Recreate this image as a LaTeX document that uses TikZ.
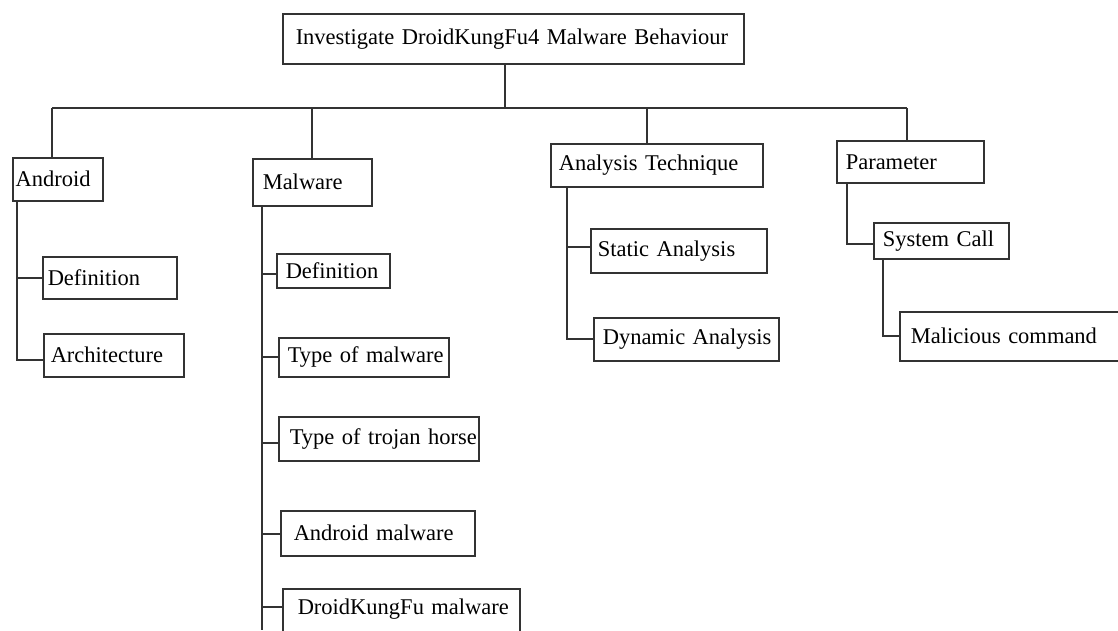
\documentclass[tikz,border=0pt]{standalone}
\usepackage{fontspec}
\setmainfont{Liberation Serif}
\tikzset{box/.style={draw=black!80,line width=1.5pt,anchor=north west,align=left,inner ysep=0pt,font=\fontsize{22.5}{27}\selectfont,execute at begin node=\hbox\bgroup,execute at end node=\egroup},link/.style={draw=black!80,line width=1.6pt}}

\begin{document}
\begin{tikzpicture}[x=1pt,y=-1pt]
\path[use as bounding box,clip] (0,0) rectangle (1118,630);
\fill[white] (0,0) rectangle (1118,630);
\node[box,minimum height=50pt,text width=435pt,inner xsep=13pt] (top) at (282,13) {Investigate DroidKungFu4 Malware Behaviour};
\node[box,minimum height=43pt,text width=84pt,inner xsep=3pt] (android) at (12,157) {Android};
\node[box,minimum height=42pt,text width=124pt,inner xsep=5pt] (adef) at (42,256) {Definition};
\node[box,minimum height=43pt,text width=126pt,inner xsep=7pt] (aarch) at (43,333) {Architecture};
\node[box,minimum height=47pt,text width=99pt,inner xsep=10pt] (malware) at (252,158) {Malware};
\node[box,minimum height=34pt,text width=95pt,inner xsep=9pt] (mdef) at (276,253) {Definition};
\node[box,minimum height=39pt,text width=152pt,inner xsep=9pt] (mtype) at (278,337) {Type of malware};
\node[box,minimum height=44pt,text width=178pt,inner xsep=11pt] (mtrojan) at (278,416) {Type of trojan horse};
\node[box,minimum height=45pt,text width=168pt,inner xsep=13pt] (mandroid) at (280,510) {Android malware};
\node[box,text height=26pt,text depth=30pt,text width=207pt,inner xsep=15pt] (mdroid) at (282,588) {DroidKungFu malware};
\node[box,minimum height=43pt,text width=196pt,inner xsep=8pt] (analysis) at (550,143) {Analysis Technique};
\node[box,minimum height=44pt,text width=162pt,inner xsep=7pt] (static) at (590,228) {Static Analysis};
\node[box,minimum height=43pt,text width=167pt,inner xsep=9pt] (dynamic) at (593,317) {Dynamic Analysis};
\node[box,minimum height=42pt,text width=129pt,inner xsep=9pt] (param) at (836,140) {Parameter};
\node[box,minimum height=36pt,text width=117pt,inner xsep=9pt] (syscall) at (873,222) {System Call};
\node[box,minimum height=49pt,text width=218pt,inner xsep=11pt] (malcmd) at (899,311) {Malicious command};
\coordinate (busL) at (52,108);\coordinate (busR) at (907,108);\coordinate (mend) at (0,630);
\draw[link] (busL) -- (busR);
\draw[link] ([xshift=-8pt]top.south) -- ([xshift=-8pt]top.south |- busL);
\draw[link] (busL) -- (busL |- android.north);
\draw[link] (malware.north |- busL) -- (malware.north);
\draw[link] ([xshift=-10pt]analysis.north |- busL) -- ([xshift=-10pt]analysis.north);
\draw[link] (busR) -- (busR |- param.north);
\draw[link] ([xshift=5pt]android.south west) |- (adef.west);
\draw[link] ([xshift=5pt]android.south west) |- ([yshift=-5pt]aarch.west);
\coordinate (mspine) at ([xshift=10pt]malware.south west);
\draw[link] (mspine) -- (mspine |- mend);
\foreach \n/\s in {mdef/-3,mtype/0,mtrojan/-4,mandroid/-1} \draw[link] (mspine) |- ([yshift=\s pt]\n.west);
\draw[link] (mspine) |- ([yshift=-19pt]mdroid.north west);
\draw[link] ([xshift=17pt]analysis.south west) |- ([yshift=4pt]static.west);
\draw[link] ([xshift=17pt]analysis.south west) |- (dynamic.west);
\draw[link] ([xshift=11pt]param.south west) |- ([yshift=-3pt]syscall.west);
\draw[link] ([xshift=10pt]syscall.south west) |- (malcmd.west);
\end{tikzpicture}
\end{document}
